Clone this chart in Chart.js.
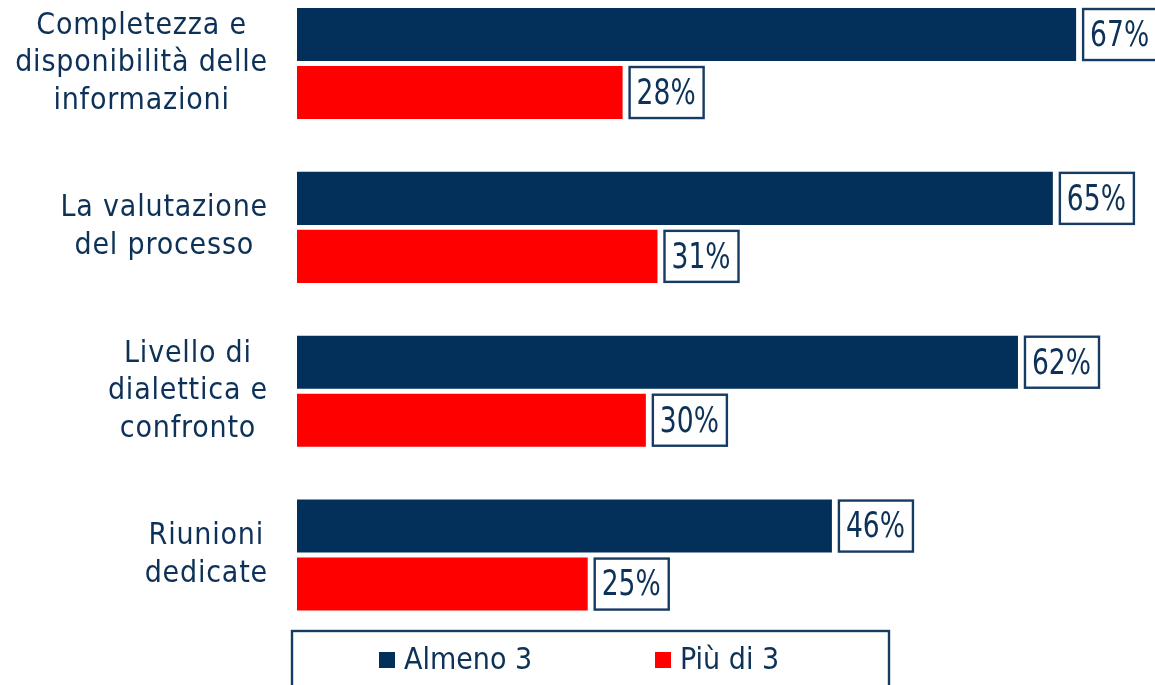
<!DOCTYPE html>
<html>
<head>
<meta charset="utf-8">
<script src="https://cdn.jsdelivr.net/npm/chart.js@4"></script>
<style>
  html, body { margin: 0; padding: 0; background: #fff; overflow: hidden; }
  #wrap { position: absolute; left: 0; top: -30px; width: 1155px; height: 720px; }
</style>
</head>
<body>
<div id="wrap"><canvas id="StatsChart" width="1155" height="720"></canvas></div>
<script>
// categories, one entry per line of the label
var categories = [
    ["Completezza e", "disponibilità delle", "informazioni"],
    ["La valutazione", "del processo"],
    ["Livello di", "dialettica e", "confronto"],
    ["Riunioni", "dedicate"]
];
var seriesNames = ["Almeno 3", "Più di 3"];
var almeno3 = [67, 65, 62, 46];
var piuDi3 = [28, 31, 30, 25];

var NAVY = "#02305a";
var RED = "#ff0000";
var TEXT = "#0d3157";
var FRAME = "#173c64";

// left-side category labels: block right aligned, lines centred inside it
var categoryLabels = {
    id: "categoryLabels",
    afterDraw: function(chart){
        var ctx = chart.ctx;
        var y = chart.scales.y;
        var right = 268;
        var lineH = 37.5;
        ctx.save();
        ctx.font = "30px 'DejaVu Sans Condensed'";
        ctx.letterSpacing = "0.8px";
        ctx.fillStyle = TEXT;
        ctx.textAlign = "center";
        ctx.textBaseline = "middle";
        categories.forEach(function(lines, i){
            var w = 0;
            lines.forEach(function(l){ w = Math.max(w, ctx.measureText(l).width); });
            var cx = right - w / 2;
            var cy = y.getPixelForValue(i);
            var top = cy - (lines.length - 1) * lineH / 2;
            lines.forEach(function(l, k){
                ctx.fillText(l, cx, top + k * lineH);
            });
        });
        ctx.restore();
    }
};

// boxed percentage next to each bar
var valueBoxes = {
    id: "valueBoxes",
    afterDatasetsDraw: function(chart){
        var ctx = chart.ctx;
        var squeeze = 0.82;
        ctx.save();
        ctx.font = "36px 'DejaVu Sans Condensed'";
        ctx.textBaseline = "middle";
        ctx.textAlign = "left";
        chart.data.datasets.forEach(function(ds, di){
            chart.getDatasetMeta(di).data.forEach(function(bar, i){
                var txt = ds.data[i] + "%";
                var tw = ctx.measureText(txt).width * squeeze;
                var h = bar.height - 2;
                var x = bar.x + 7;
                var w = tw + 15;
                ctx.fillStyle = "#fff";
                ctx.fillRect(x, bar.y - h / 2, w, h);
                ctx.strokeStyle = FRAME;
                ctx.lineWidth = 2.4;
                ctx.strokeRect(x, bar.y - h / 2, w, h);
                ctx.fillStyle = TEXT;
                ctx.save();
                ctx.translate(x + 7, bar.y + 2);
                ctx.scale(squeeze, 1);
                ctx.fillText(txt, 0, 0);
                ctx.restore();
            });
        });
        ctx.restore();
    }
};

// framed legend under the bars
var boxLegend = {
    id: "boxLegend",
    afterDraw: function(chart){
        var ctx = chart.ctx;
        var top = chart.chartArea.bottom - 6;
        ctx.save();
        ctx.strokeStyle = FRAME;
        ctx.lineWidth = 2.4;
        ctx.strokeRect(292, top, 597, 120);
        ctx.font = "30px 'DejaVu Sans Condensed'";
        ctx.textBaseline = "middle";
        ctx.textAlign = "left";
        var xs = [379, 655];
        chart.data.datasets.forEach(function(ds, i){
            var cy = top + 29;
            ctx.fillStyle = ds.backgroundColor;
            ctx.fillRect(xs[i], cy - 8, 16, 16);
            ctx.fillStyle = TEXT;
            ctx.fillText(ds.label, xs[i] + 25, cy + 1);
        });
        ctx.restore();
    }
};

var ctx = document.getElementById("StatsChart");
new Chart(ctx, {
    type: "bar",
    data: {
        labels: categories,
        datasets: [{
            label: seriesNames[0],
            data: almeno3,
            backgroundColor: NAVY,
            categoryPercentage: 0.708,
            barPercentage: 0.914
        }, {
            label: seriesNames[1],
            data: piuDi3,
            backgroundColor: RED,
            categoryPercentage: 0.708,
            barPercentage: 0.914
        }]
    },
    options: {
        indexAxis: "y",
        responsive: false,
        animation: false,
        layout: { padding: { left: 297, right: 44, top: 11.6, bottom: 53 } },
        scales: {
            x: { display: false, min: 0, max: 70 },
            y: { display: false }
        },
        plugins: {
            legend: { display: false },
            tooltip: { enabled: false }
        }
    },
    plugins: [categoryLabels, valueBoxes, boxLegend]
});
</script>
</body>
</html>
